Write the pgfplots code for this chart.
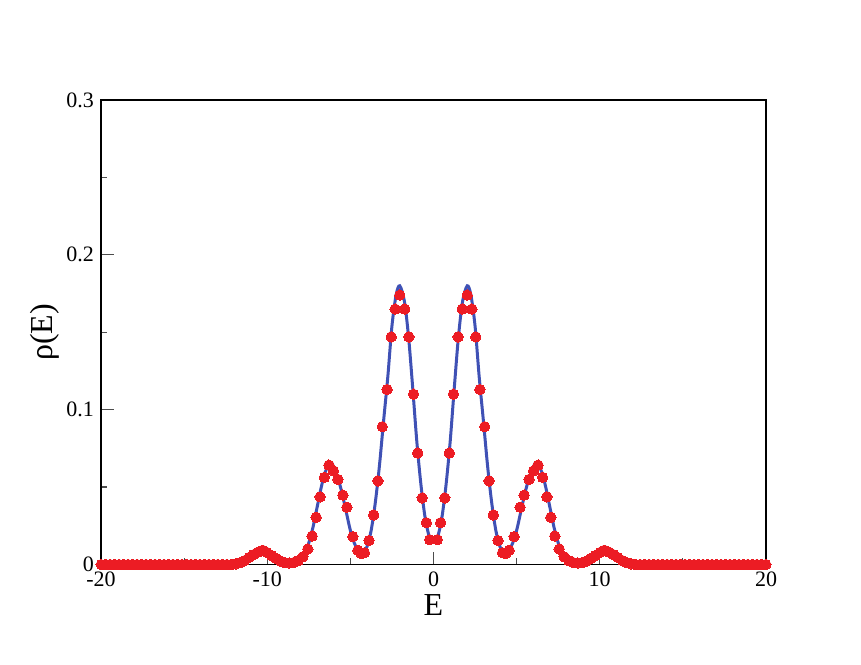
\documentclass[border=0pt]{standalone}
\usepackage{fontspec}
\setmainfont{Liberation Serif}
\usepackage{pgfplots}
\pgfplotsset{compat=1.18}
\usepackage{pgfplotstable}
\definecolor{dotred}{RGB}{236,28,36}
\definecolor{lineblue}{RGB}{63,81,181}
\pgfplotstableread{
E rho
-19.99 0
-19.72 0
-19.45 0
-19.18 0
-18.91 0
-18.64 0
-18.37 0
-18.10 0
-17.83 0
-17.56 0
-17.29 0
-17.02 0
-16.75 0
-16.48 0
-16.21 0
-15.94 0
-15.67 0
-15.40 0
-15.13 0
-14.86 0
-14.59 0
-14.32 0
-14.05 0
-13.78 0
-13.51 0
-13.24 0
-12.97 0
-12.70 0
-12.43 0
-12.16 0
-11.89 0.0004
-11.62 0.0012
-11.35 0.0026
-11.08 0.0046
-10.82 0.0064
-10.55 0.0080
-10.28 0.0092
-10.02 0.0078
-9.75 0.0058
-9.48 0.0040
-9.21 0.0022
-8.94 0.0012
-8.67 0.0010
-8.40 0.0013
-8.13 0.0025
-7.86 0.0050
-7.56 0.0100
-7.30 0.0184
-7.06 0.0305
-6.82 0.0437
-6.56 0.0563
-6.29 0.0642
-6.02 0.0605
-5.75 0.0550
-5.45 0.0448
-5.21 0.0370
-4.85 0.0180
-4.55 0.0092
-4.35 0.0070
-4.15 0.0076
-3.88 0.0155
-3.60 0.032
-3.34 0.054
-3.08 0.089
-2.79 0.113
-2.54 0.147
-2.31 0.165
-2.03 0.174
-1.73 0.165
-1.48 0.147
-1.20 0.110
-0.95 0.072
-0.68 0.043
-0.43 0.027
-0.23 0.016
0.23 0.016
0.43 0.027
0.68 0.043
0.95 0.072
1.20 0.110
1.48 0.147
1.73 0.165
2.03 0.174
2.31 0.165
2.54 0.147
2.79 0.113
3.08 0.089
3.34 0.054
3.60 0.032
3.88 0.0155
4.15 0.0076
4.35 0.0070
4.55 0.0092
4.85 0.0180
5.21 0.0370
5.45 0.0448
5.75 0.0550
6.02 0.0605
6.29 0.0642
6.56 0.0563
6.82 0.0437
7.06 0.0305
7.30 0.0184
7.56 0.0100
7.86 0.0050
8.13 0.0025
8.40 0.0013
8.67 0.0010
8.94 0.0012
9.21 0.0022
9.48 0.0040
9.75 0.0058
10.02 0.0078
10.28 0.0092
10.55 0.0080
10.82 0.0064
11.08 0.0046
11.35 0.0026
11.62 0.0012
11.89 0.0004
12.16 0
12.43 0
12.70 0
12.97 0
13.24 0
13.51 0
13.78 0
14.05 0
14.32 0
14.59 0
14.86 0
15.13 0
15.40 0
15.67 0
15.94 0
16.21 0
16.48 0
16.75 0
17.02 0
17.29 0
17.56 0
17.83 0
18.10 0
18.37 0
18.64 0
18.91 0
19.18 0
19.45 0
19.72 0
19.99 0
}\dots
\pgfplotstableread{
E rho
-20 0
-14 0
-13 0
-12 0.0001
-11.75 0.0004
-11.5 0.0010
-11.25 0.0022
-11.0 0.0038
-10.75 0.0055
-10.5 0.0068
-10.25 0.0072
-10.0 0.0066
-9.75 0.0053
-9.5 0.0038
-9.25 0.0024
-9.0 0.0014
-8.75 0.0009
-8.5 0.0010
-8.25 0.0018
-8.0 0.0038
-7.75 0.0075
-7.5 0.0140
-7.25 0.0240
-7.0 0.0370
-6.75 0.0500
-6.5 0.0600
-6.2 0.0660
-6.0 0.0630
-5.75 0.0560
-5.5 0.0460
-5.25 0.0340
-5.0 0.0220
-4.75 0.0135
-4.5 0.0085
-4.25 0.0078
-4.0 0.0115
-3.75 0.022
-3.5 0.040
-3.25 0.064
-3.0 0.093
-2.75 0.121
-2.5 0.154
-2.25 0.174
-2.03 0.180
-1.75 0.170
-1.5 0.147
-1.25 0.114
-1.0 0.079
-0.75 0.051
-0.5 0.030
-0.25 0.018
0 0.0155
0.25 0.018
0.5 0.030
0.75 0.051
1.0 0.079
1.25 0.114
1.5 0.147
1.75 0.170
2.03 0.180
2.25 0.174
2.5 0.154
2.75 0.121
3.0 0.093
3.25 0.064
3.5 0.040
3.75 0.022
4.0 0.0115
4.25 0.0078
4.5 0.0085
4.75 0.0135
5.0 0.0220
5.25 0.0340
5.5 0.0460
5.75 0.0560
6.0 0.0630
6.2 0.0660
6.5 0.0600
6.75 0.0500
7.0 0.0370
7.25 0.0240
7.5 0.0140
7.75 0.0075
8.0 0.0038
8.25 0.0018
8.5 0.0010
8.75 0.0009
9.0 0.0014
9.25 0.0024
9.5 0.0038
9.75 0.0053
10.0 0.0066
10.25 0.0072
10.5 0.0068
10.75 0.0055
11.0 0.0038
11.25 0.0022
11.5 0.0010
11.75 0.0004
12 0.0001
13 0
14 0
20 0
}\curve
\begin{document}
\begin{tikzpicture}
\path[use as bounding box] (-50.5pt,-49.75pt) rectangle (380pt,282.25pt);
\begin{axis}[
  at={(0,0)}, anchor=south west,
  scale only axis, width=332.5pt, height=232.25pt,
  xmin=-20, xmax=20, ymin=0, ymax=0.3,
  xtick={-20,-10,0,10,20}, xticklabels={-20,-10,0,10,20},
  minor xtick={-15,-5,5,15},
  ytick={0,0.1,0.2,0.3}, yticklabels={0,0.1,0.2,0.3},
  minor ytick={0.05,0.15,0.25},
  tick align=inside, xtick pos=bottom, ytick pos=left,
  major tick length=6.5pt, minor tick length=3.2pt,
  tick label style={font=\fontsize{11}{13}\selectfont},
  axis line style={line width=0.6pt},
  tick style={line width=0.6pt, black!70},
  clip=false,
  xlabel={E}, ylabel={ρ(E)},
  xlabel style={font=\fontsize{16}{19}\selectfont, at={(axis description cs:0.5,-0.088)}, anchor=center},
  ylabel style={font=\fontsize{16}{19}\selectfont, at={(axis description cs:-0.084,0.5)}, anchor=center},
]
\addplot[dotred, only marks, mark=*, mark size=2.6pt, mark options={fill=dotred, draw=dotred, line width=0pt}] table {\dots};
\addplot[lineblue, line width=1.5pt, smooth, no marks] table {\curve};
\end{axis}
\end{tikzpicture}
\end{document}
